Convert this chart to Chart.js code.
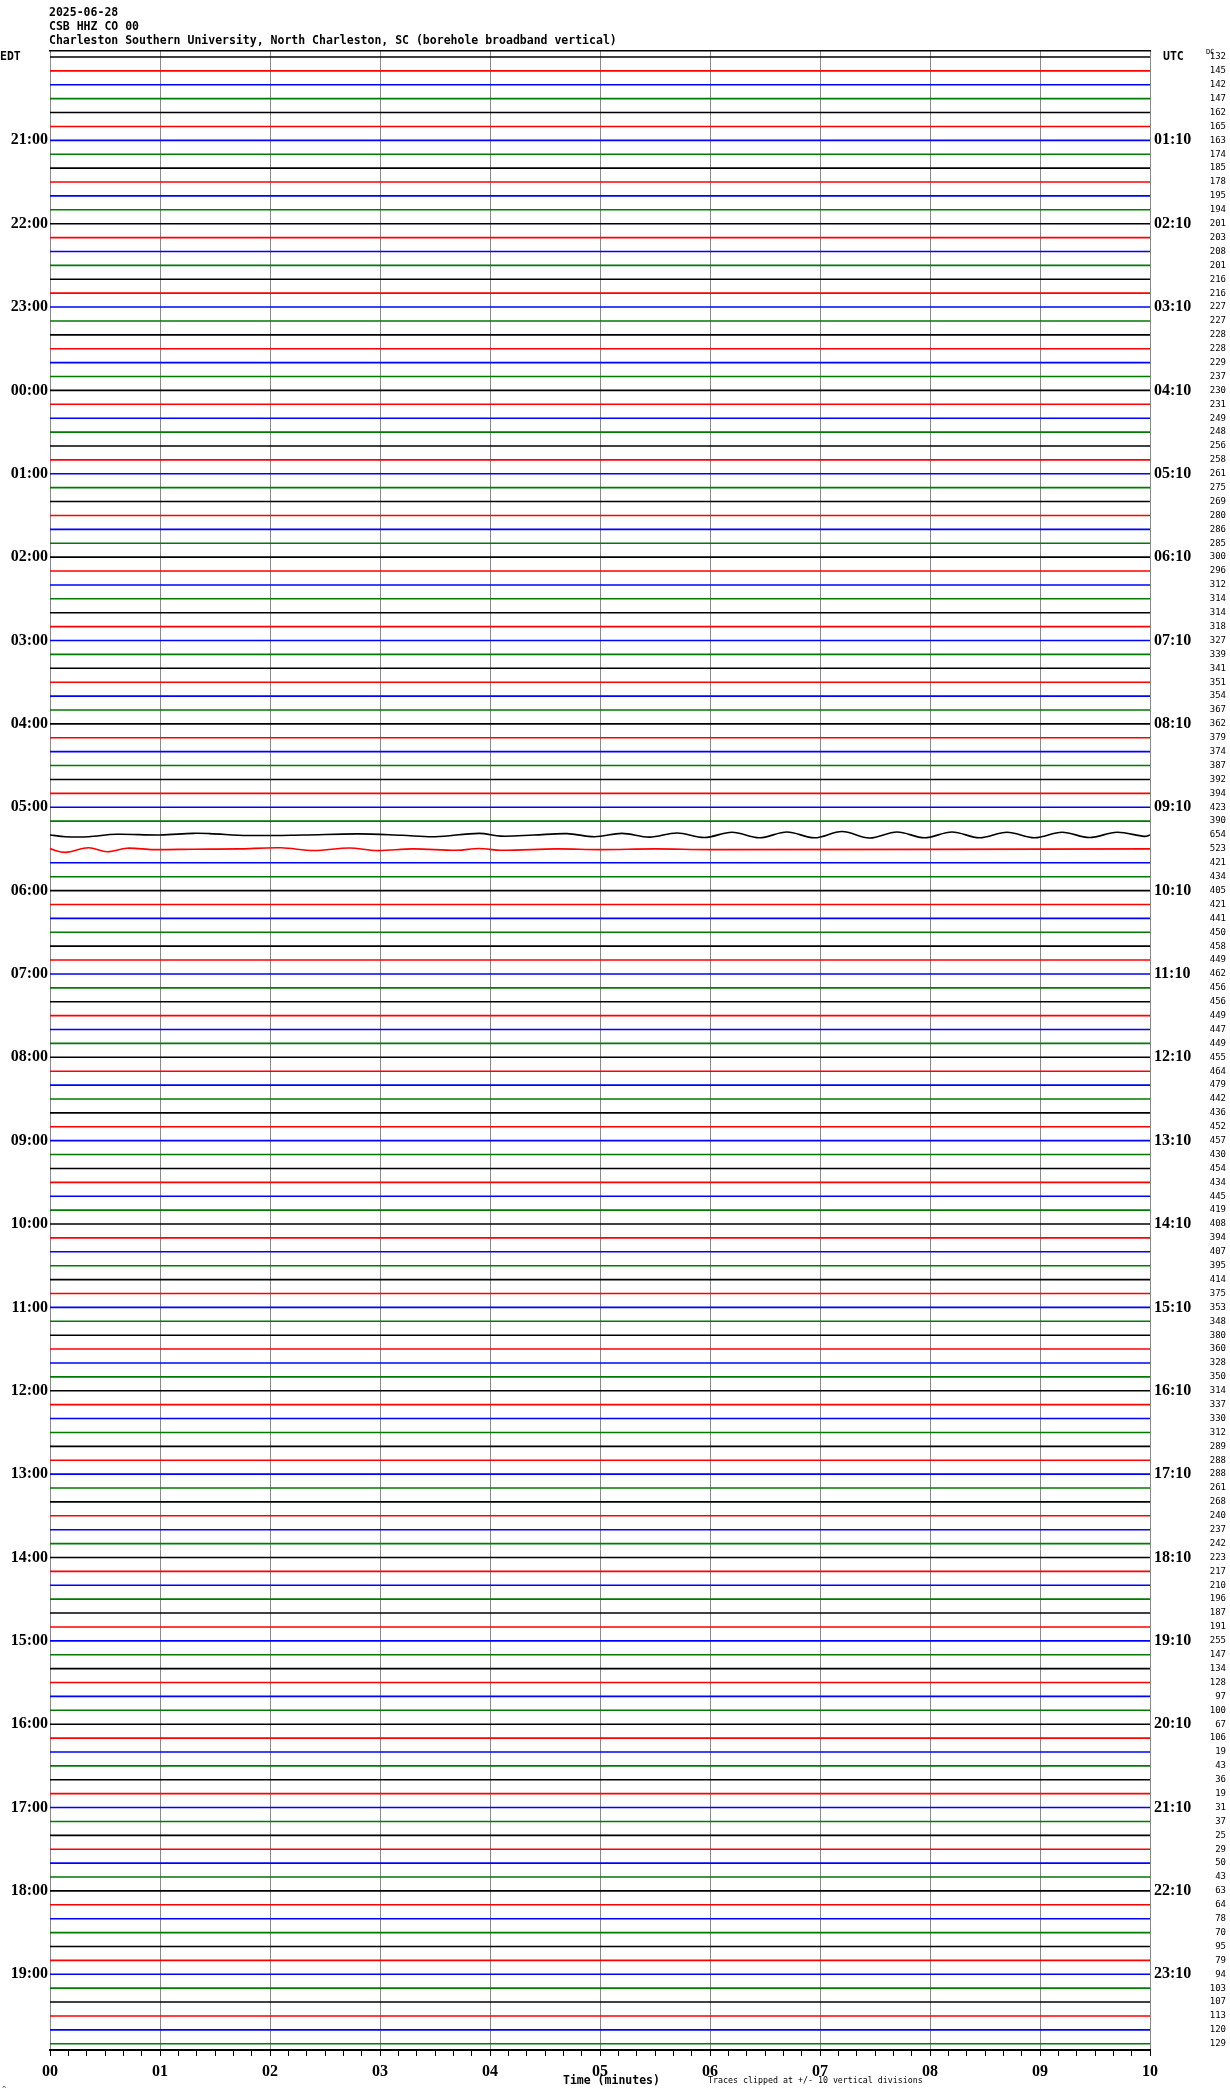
<!DOCTYPE html>
<html>
<head>
<meta charset="utf-8">
<script src="https://cdn.jsdelivr.net/npm/chart.js@4.4.0/dist/chart.umd.min.js"></script>
<style>
  html, body { margin:0; padding:0; background:#fff; }
  #wrap { position:relative; width:1230px; height:2094px; }
</style>
</head>
<body>
<div id="wrap"><canvas id="heli"></canvas></div>
<script>
const stationDate = '2025-06-28';
const stationCode = 'CSB HHZ CO 00';
const stationName = 'Charleston Southern University, North Charleston, SC (borehole broadband vertical)';

// one label per hour, each hour = 6 traces of 10 minutes
const edtHours = ['EDT','21:00','22:00','23:00','00:00','01:00','02:00','03:00','04:00','05:00','06:00','07:00',
  '08:00','09:00','10:00','11:00','12:00','13:00','14:00','15:00','16:00','17:00','18:00','19:00'];
const utcHours = ['UTC','01:10','02:10','03:10','04:10','05:10','06:10','07:10','08:10','09:10','10:10','11:10',
  '12:10','13:10','14:10','15:10','16:10','17:10','18:10','19:10','20:10','21:10','22:10','23:10'];

// DC value printed at the right of every trace (top to bottom)
const dcValues = [
  132,145,142,147,162,165, 163,174,185,178,195,194, 201,203,208,201,216,216, 227,227,228,228,229,237,
  230,231,249,248,256,258, 261,275,269,280,286,285, 300,296,312,314,314,318, 327,339,341,351,354,367,
  362,379,374,387,392,394, 423,390,654,523,421,434, 405,421,441,450,458,449, 462,456,456,449,447,449,
  455,464,479,442,436,452, 457,430,454,434,445,419, 408,394,407,395,414,375, 353,348,380,360,328,350,
  314,337,330,312,289,288, 288,261,268,240,237,242, 223,217,210,196,187,191, 255,147,134,128,97,100,
  67,106,19,43,36,19, 31,37,25,29,50,43, 63,64,78,70,95,79, 94,103,107,113,120,129
];
const traceColors = ['#000000', '#ff0000', '#0000ff', '#007a00'];
const minuteLabels = ['00','01','02','03','04','05','06','07','08','09','10'];

// the two wavy traces around 05:20-05:30 EDT: [minute, offset in trace units, + is down]
const wave0520 = [[0,0],[0.14,0.12],[0.35,0.12],[0.6,-0.05],[1.0,0],[1.3,-0.12],[1.45,-0.1],[1.8,0.03],[2.3,0],
  [2.8,-0.08],[3.2,0.02],[3.5,0.12],[3.9,-0.12],[4.1,0.08],[4.4,0],[4.7,-0.1],[4.95,0.12],[5.2,-0.12],[5.45,0.15],
  [5.7,-0.15],[5.95,0.18],[6.2,-0.2],[6.45,0.2],[6.7,-0.22],[6.95,0.2],[7.2,-0.25],[7.45,0.22],[7.7,-0.22],
  [7.95,0.2],[8.2,-0.22],[8.45,0.2],[8.7,-0.2],[8.95,0.2],[9.2,-0.2],[9.45,0.18],[9.7,-0.2],[9.95,0.1],[10,0]];
const wave0530 = [[0,0],[0.14,0.25],[0.35,-0.08],[0.52,0.2],[0.7,-0.05],[0.94,0.05],[1.3,0.02],[1.7,0],
  [2.1,-0.08],[2.4,0.12],[2.72,-0.06],[2.97,0.12],[3.3,0],[3.7,0.1],[3.9,-0.03],[4.1,0.1],[4.6,0],[5,0.05],
  [5.5,0],[6,0.05],[10,0]];
const waves = { 56: wave0520, 57: wave0530 };

const hourTicks = edtHours.map((h, i) => ({ value: i * 6 }));
const traceTicks = dcValues.map((v, i) => ({ value: i }));
const secTicks = Array.from({ length: 61 }, (_, i) => ({ value: i / 6 }));

const noGrid = { display: false, drawOnChartArea: false, drawTicks: false };

const extras = {
  id: 'extras',
  afterDraw(chart) {
    const { ctx, chartArea: a } = chart;
    ctx.save();
    ctx.fillStyle = '#000';
    ctx.textBaseline = 'middle';
    ctx.textAlign = 'left';
    ctx.font = 'bold 11.5px "DejaVu Sans Mono"';
    ctx.fillText(stationDate, a.left - 1, 13);
    ctx.fillText(stationCode, a.left - 1, 27);
    ctx.fillText(stationName, a.left - 1, 41);
    ctx.fillText('EDT', 0, 57);
    ctx.fillText('UTC', 1163, 57);
    ctx.fillText('Time (minutes)', 563, 2081);
    ctx.font = '7px "DejaVu Sans Mono"';
    ctx.fillText('DC', 1206, 52);
    ctx.fillText('^', 2, 2089);
    ctx.font = '8.3px "DejaVu Sans Mono"';
    ctx.fillText('Traces clipped at +/- 10 vertical divisions', 708, 2081);
    ctx.restore();
  }
};

new Chart(document.getElementById('heli'), {
  type: 'line',
  data: {
    datasets: dcValues.map((v, i) => ({
      label: 'trace ' + i,
      data: waves[i] ? waves[i].map(([m, o]) => ({ x: m, y: i + o })) : [{ x: 0, y: i }, { x: 10, y: i }],
      borderColor: traceColors[i % 4],
      borderWidth: 1.6,
      tension: 0.35,
      pointRadius: 0,
      yAxisID: 'y'
    }))
  },
  options: {
    responsive: true, maintainAspectRatio: false, animation: false,
    layout: { padding: { top: 51, left: 0, right: 4, bottom: 0 } },
    plugins: { legend: { display: false }, tooltip: { enabled: false } },
    scales: {
      x: {
        type: 'linear', position: 'bottom', min: 0, max: 10,
        afterBuildTicks: s => { s.ticks = secTicks.map(t => ({ ...t })); },
        afterFit: s => { s.height = 44; },
        ticks: {
          autoSkip: false, maxRotation: 0, padding: 6, color: '#000', font: { family: 'Liberation Serif', size: 16, weight: 'bold' },
          callback: (v, i) => i % 6 === 0 ? minuteLabels[i / 6] : ''
        },
        grid: {
          color: c => c.index % 6 === 0 ? '#8a8a8a' : 'rgba(0,0,0,0)',
          tickColor: '#000', tickLength: 6, lineWidth: 1
        },
        border: { color: '#000', width: 2 }
      },
      xTop: {
        type: 'linear', position: 'top', min: 0, max: 10,
        afterFit: s => { s.height = 0; },
        ticks: { display: false }, grid: noGrid,
        border: { color: '#000', width: 1.5 }
      },
      y: {
        type: 'linear', position: 'left', reverse: true, min: -0.43, max: 143.45,
        afterBuildTicks: s => { s.ticks = hourTicks.map(t => ({ ...t })); },
        afterFit: s => { s.width = 50; },
        ticks: {
          autoSkip: false, padding: 2, color: '#000', font: { family: 'Liberation Serif', size: 16, weight: 'bold' },
          callback: (v, i) => i === 0 ? '' : edtHours[i]
        },
        grid: noGrid, border: { display: false }
      },
      yUtc: {
        type: 'linear', position: 'right', reverse: true, min: -0.43, max: 143.45,
        afterBuildTicks: s => { s.ticks = hourTicks.map(t => ({ ...t })); },
        afterFit: s => { s.width = 50; },
        ticks: {
          autoSkip: false, padding: 4, color: '#000', font: { family: 'Liberation Serif', size: 16, weight: 'bold' },
          callback: (v, i) => i === 0 ? '' : utcHours[i]
        },
        grid: noGrid, border: { display: false }
      },
      yDc: {
        type: 'linear', position: 'right', reverse: true, min: -0.43, max: 143.45,
        afterBuildTicks: s => { s.ticks = traceTicks.map(t => ({ ...t })); },
        afterFit: s => { s.width = 26; },
        ticks: {
          autoSkip: false, padding: 0, crossAlign: 'far', color: '#000', font: { family: 'DejaVu Sans Mono', size: 9 },
          callback: (v, i) => String(dcValues[i])
        },
        grid: noGrid, border: { display: false }
      }
    }
  },
  plugins: [extras]
});
</script>
</body>
</html>
